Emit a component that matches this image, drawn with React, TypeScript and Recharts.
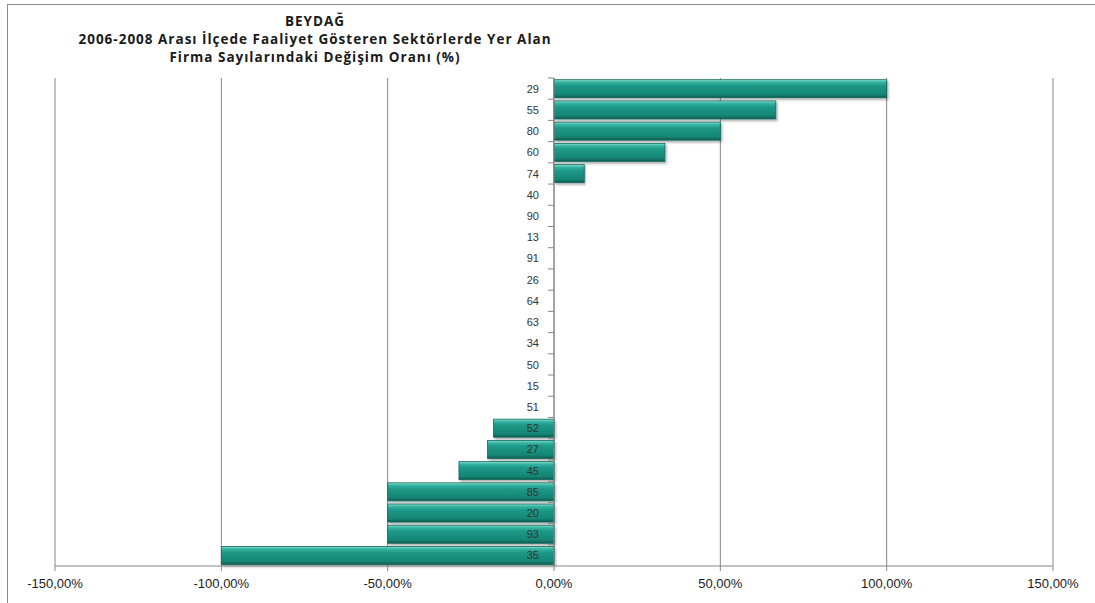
import React from "react";
import {
  BarChart,
  Bar,
  XAxis,
  YAxis,
  CartesianGrid,
  ReferenceLine,
} from "recharts";

const categories = [
  "29", "55", "80", "60", "74", "40", "90", "13", "91", "26", "64", "63",
  "34", "50", "15", "51", "52", "27", "45", "85", "20", "93", "35",
];
const changeRates = [
  100, 66.67, 50, 33.33, 9.09, 0, 0, 0, 0, 0, 0, 0,
  0, 0, 0, 0, -18.18, -20, -28.57, -50, -50, -50, -100,
];
const xTicks = [-150, -100, -50, 0, 50, 100, 150];
const titleLines = [
  "BEYDAĞ",
  "2006-2008 Arası İlçede Faaliyet Gösteren Sektörlerde Yer Alan",
  "Firma Sayılarındaki Değişim Oranı (%)",
];

const data = categories.map((name, i) => ({ name, value: changeRates[i] }));

const GAP = 0.08;
const GRID = "#868686";

const fmt = (v: number) => v.toFixed(2).replace(".", ",") + "%";

const BarWithLabel = (props: any) => {
  const { x, y, width, height, payload } = props;
  const v = payload?.value ?? 0;
  const left = Math.min(x, x + width);
  const w = Math.abs(width);
  const zeroX = v < 0 ? left + w : left;
  const band = height / (1 - 2 * GAP);
  const top = y - GAP * band;
  return (
    <g>
      {w > 0 && (
        <rect
          x={left}
          y={y}
          width={w}
          height={height}
          fill="url(#barGrad)"
          stroke="#11685c"
          strokeWidth={0.8}
          filter="url(#barShadow)"
        />
      )}
      <line x1={zeroX - 6} x2={zeroX} y1={top} y2={top} stroke={GRID} strokeWidth={1} />
      <text
        x={zeroX - 15}
        y={y + height / 2}
        textAnchor="end"
        dominantBaseline="central"
        fontFamily="'Liberation Sans', sans-serif"
        fontSize={11}
        fill="#333333"
      >
        {payload?.name}
      </text>
    </g>
  );
};

export default function App() {
  return (
    <div
      style={{
        position: "absolute",
        left: 0,
        top: 0,
        width: 1095,
        height: 603,
        overflow: "hidden",
        background: "#fff",
      }}
    >
      <div
        style={{
          position: "absolute",
          left: 7,
          top: 4,
          width: 1200,
          height: 800,
          border: "1px solid #8c8c8c",
        }}
      />
      <div
        style={{
          position: "absolute",
          left: 65,
          top: 12,
          width: 500,
          textAlign: "center",
          fontFamily: "'Open Sans', sans-serif",
          fontWeight: 700,
          fontSize: 13.5,
          letterSpacing: 1,
          lineHeight: "18px",
          color: "#1a1a1a",
          whiteSpace: "nowrap",
          display: "flex",
          flexDirection: "column",
          alignItems: "center",
        }}
      >
        {titleLines.map((t) => (
          <div key={t}>{t}</div>
        ))}
      </div>
      <div style={{ position: "absolute", left: 0, top: 0 }}>
        <BarChart
          width={1095}
          height={603}
          data={data}
          layout="vertical"
          margin={{ top: 78, right: 42, bottom: 7, left: 55 }}
          barCategoryGap={`${GAP * 100}%`}
        >
          <defs>
            <linearGradient id="barGrad" x1="0" y1="0" x2="0" y2="1">
              <stop offset="0%" stopColor="#8fe0d0" />
              <stop offset="14%" stopColor="#35b3a2" />
              <stop offset="35%" stopColor="#1c9787" />
              <stop offset="80%" stopColor="#178776" />
              <stop offset="100%" stopColor="#0d5c51" />
            </linearGradient>
            <filter id="barShadow" x="-5%" y="-20%" width="110%" height="160%">
              <feDropShadow dx="1.5" dy="2" stdDeviation="1" floodColor="#000" floodOpacity="0.3" />
            </filter>
          </defs>
          <CartesianGrid horizontal={false} vertical={true} stroke={GRID} />
          <XAxis
            type="number"
            domain={[-150, 150]}
            ticks={xTicks}
            tickFormatter={fmt}
            axisLine={{ stroke: GRID }}
            tickLine={{ stroke: GRID }}
            tickSize={5}
            tickMargin={8}
            height={30}
            interval={0}
            tick={{
              fill: "#1a1a1a",
              fontSize: 13,
              fontFamily: "'Liberation Sans Narrow', 'Liberation Sans', sans-serif",
            }}
          />
          <YAxis type="category" dataKey="name" hide />
          <ReferenceLine x={0} stroke={GRID} strokeWidth={1} />
          <Bar
            dataKey="value"
            shape={<BarWithLabel />}
            isAnimationActive={false}
          />
        </BarChart>
      </div>
    </div>
  );
}
